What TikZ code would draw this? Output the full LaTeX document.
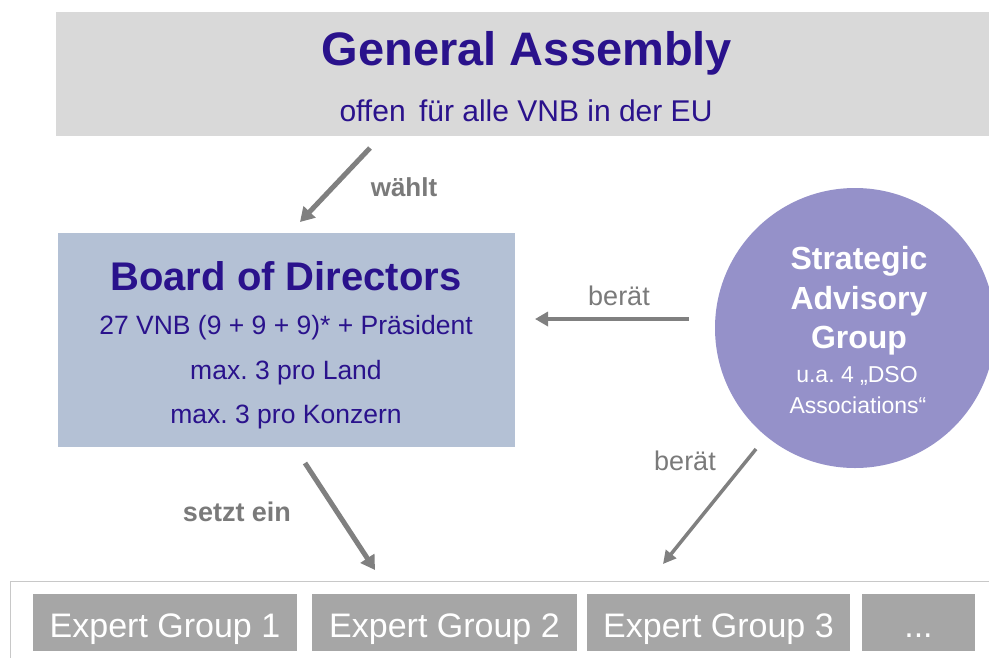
\documentclass[tikz,border=0pt]{standalone}
\usepackage{fontspec}
\setmainfont{Liberation Sans}
\usetikzlibrary{arrows.meta}
\frenchspacing
\definecolor{titleblue}{HTML}{2A128C}
\definecolor{gabox}{HTML}{D9D9D9}
\definecolor{bdbox}{HTML}{B4C1D5}
\definecolor{sagcirc}{HTML}{9591C9}
\definecolor{arrgray}{HTML}{808080}
\definecolor{lblgray}{HTML}{7A7A7A}
\definecolor{egbox}{HTML}{A6A6A6}
\definecolor{framegray}{HTML}{C8C8C8}
\newcommand{\fsz}[1]{\fontsize{#1}{#1}\selectfont}
\tikzset{
  box/.style={rectangle, inner sep=0pt, draw=none},
  txt/.style={inner sep=0pt, anchor=center},
  conn/.style={draw=arrgray, -{Triangle[length=14pt,width=16pt]}},
  egnode/.style={box, fill=egbox, minimum height=57pt},
  egtext/.style={inner sep=0pt, anchor=base, text=white, font=\fsz{34}},
}
\begin{document}
\begin{tikzpicture}[x=1pt,y=-1pt]
\clip (0,0) rectangle (989,657);
\fill[white] (0,0) rectangle (989,657);
% General Assembly
\node[box, fill=gabox, minimum width=942pt, minimum height=124pt] (ga) at (527,74) {};
\node[txt, text=titleblue, font=\bfseries\fsz{47}] (gat) at (527,53) {General Assembly};
\node[txt, text=titleblue, font=\fsz{30}] (gas) at (526,111) {offen\, für alle VNB in der EU};
% Board of Directors
\node[box, fill=bdbox, minimum width=457pt, minimum height=214pt] (bd) at (286.5,340) {};
\node[txt, text=titleblue, font=\bfseries\fsz{40}] (bdt) at (286,276) {Board of Directors};
\node[txt, text=titleblue, font=\fsz{26.5}] (bd1) at (286,328) {27 VNB (9 + 9 + 9)* + Präsident};
\node[txt, text=titleblue, font=\fsz{26.5}] (bd2) at (286,373) {max. 3 pro Land};
\node[txt, text=titleblue, font=\fsz{26.5}] (bd3) at (286,417) {max. 3 pro Konzern};
% Strategic Advisory Group
\node[circle, fill=sagcirc, minimum size=280pt, inner sep=0pt] (sag) at (855,328) {};
\node[txt, text=white, font=\bfseries\fsz{32}] (sag1) at (859,261) {Strategic};
\node[txt, text=white, font=\bfseries\fsz{32}] (sag2) at (859,301) {Advisory};
\node[txt, text=white, font=\bfseries\fsz{32}] (sag3) at (859,341) {Group};
\node[txt, text=white, font=\fsz{23}] (sag4) at (857,376) {u.a. 4 „DSO};
\node[txt, text=white, font=\fsz{23}] (sag5) at (858,405) {Associations“};
% Expert groups frame
\draw[framegray, line width=1pt] (10,700) -- (10,581) -- (1000,581);
\node[egnode, minimum width=264pt] (eg1) at (165,622.5) {};
\node[egnode, minimum width=265pt] (eg2) at (444.5,622.5) {};
\node[egnode, minimum width=263pt] (eg3) at (718.5,622.5) {};
\node[egnode, minimum width=113pt] (eg4) at (918.5,622.5) {};
\node[egtext] (eg1t) at (165,637) {Expert Group 1};
\node[egtext] (eg2t) at (444.5,637) {Expert Group 2};
\node[egtext] (eg3t) at (718.5,637) {Expert Group 3};
\node[egtext] (eg4t) at (918.5,637) {...};
% connector end points
\coordinate (a1s) at (370,148);
\coordinate (a1e) at (300,222);
\coordinate (a2s) at (689,319);
\coordinate (a2e) at (535,319);
\coordinate (a3s) at (756,449);
\coordinate (a3e) at (663,564);
\coordinate (a4s) at (305,463);
\coordinate (a4e) at (375,570);
% connectors
\draw[conn, line width=5pt] (a1s) -- (a1e);
\draw[conn, line width=4pt, -{Triangle[length=13pt,width=14pt]}] (a2s) -- (a2e);
\draw[conn, line width=3.5pt, -{Triangle[length=13pt,width=13pt]}] (a3s) -- (a3e);
\draw[conn, line width=5pt] (a4s) -- (a4e);
% labels
\node[txt, text=lblgray, font=\bfseries\fsz{26}] (l1) at (404,187) {wählt};
\node[txt, text=lblgray, font=\fsz{27}] (l2) at (619,296) {berät};
\node[txt, text=lblgray, font=\fsz{27}] (l3) at (685,461) {berät};
\node[txt, text=lblgray, font=\bfseries\fsz{27}] (l4) at (237,512) {setzt ein};
\end{tikzpicture}
\end{document}
